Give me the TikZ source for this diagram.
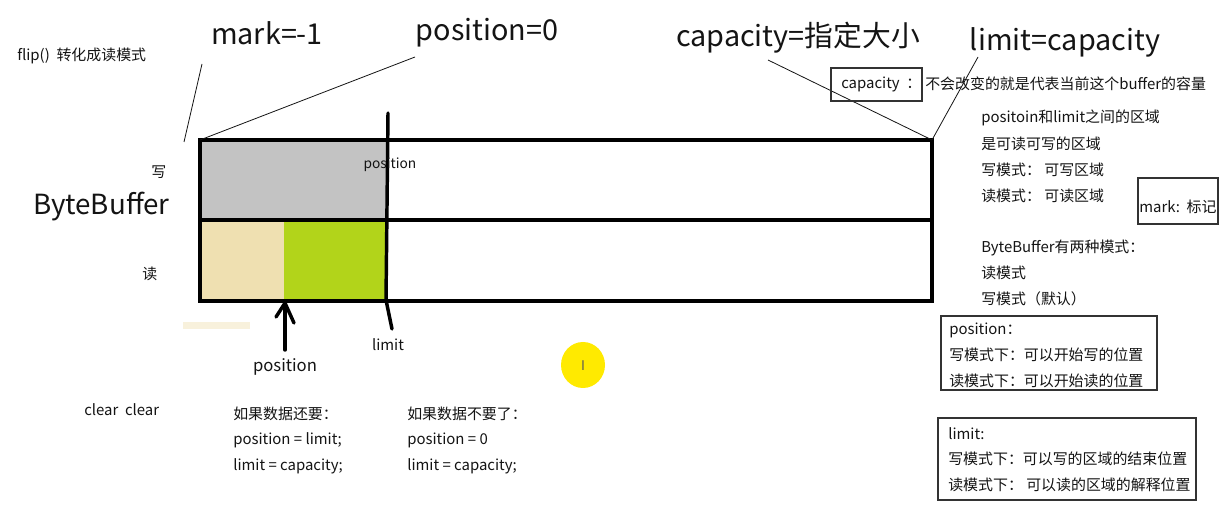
\documentclass[tikz,border=0pt]{standalone}
\usepackage{fontspec}
\setmainfont{Noto Sans CJK SC}
\definecolor{cgray}{HTML}{C3C3C3}
\definecolor{ctan}{HTML}{EFE0B1}
\definecolor{cgreen}{HTML}{B2D41A}
\definecolor{cyel}{HTML}{FFEA00}
\definecolor{ctxt}{HTML}{141414}
\begin{document}
\begin{tikzpicture}[x=0.75pt,y=-0.75pt,
  sm/.style={font=\fontsize{11.2}{12}\selectfont, inner sep=0pt, anchor=west, text=ctxt},
  md/.style={font=\fontsize{12.5}{14}\selectfont, inner sep=0pt, text=ctxt},
  big/.style={font=\fontsize{21.6}{24}\selectfont, inner sep=0pt, text=ctxt},
  thinln/.style={line width=0.6pt, draw=ctxt},
  boxln/.style={line width=0.9pt, draw=black!80},
  thick3/.style={line width=3.6pt, draw=black},
  bar/.style={line width=2.6pt, draw=black, line cap=round}]
\useasboundingbox (0,0) rectangle (1223,505);
\fill[white] (0,0) rectangle (1223,505);

% fills
\fill[cgray] (200,140) rectangle (387,220);
\fill[ctan] (200,220) rectangle (284,301);
\fill[cgreen] (284,220) rectangle (387,301);
\fill[ctan!45] (183,322) rectangle (250,329);

% buffer rectangle
\coordinate (tl) at (200,140);
\coordinate (tr) at (932,140);
\draw[thick3] (200,140) rectangle (932,301);
\draw[line width=3.2pt] (200,220) -- (932,220);

% vertical position/limit line
\coordinate (vtop) at (388,113);
\coordinate (vmid) at (386,300);
\coordinate (vbot) at (392,329);
\draw[bar] (vtop) -- (vmid) -- (vbot);

% arrow under green block
\coordinate (atip) at (285,303);
\coordinate (abot) at (285,350);
\draw[bar] (abot) -- (atip);
\draw[bar, line join=round] (276,317) -- (atip) -- (294,323);

% left labels
\node[sm] (flip) at (17,56) {flip()\ \ 转化成读模式};
\node[sm] (xie) at (151,172) {写};
\node[sm] (du) at (142,274) {读};
\node[big, anchor=west, font=\fontsize{20.8}{24}\selectfont] (bb) at (33,207) {ByteBuffer};

% top labels
\node[big] (mark) at (267,33) {mark=-1};
\node[big] (pos0) at (487,33) {position=0};
\node[big] (cap) at (798,38) {capacity=指定大小};
\node[big] (lim) at (1065,42) {limit=capacity};

% pointer lines
\coordinate (markend) at (202,64);
\coordinate (markto) at (184,142);
\coordinate (posend) at (415,57);
\coordinate (capend) at (768,60);
\coordinate (limend) at (978,57);
\draw[thinln] (markend) -- (markto);
\draw[thinln] (posend) -- (tl);
\draw[thinln] (capend) -- (tr);
\draw[thinln] (limend) -- (tr);

% inner labels
\node[sm, anchor=center, font=\fontsize{10.3}{12}\selectfont] (posin) at (390,165) {position};
\node[md] (posbelow) at (285,367) {position};
\node[sm, anchor=center] (limbelow) at (388,345) {limit};

% capacity box
\draw[boxln] (831,68) rectangle (922,101);
\node[sm] (capbox) at (841,84) {capacity\ \ ：};
\node[sm] (capdesc) at (925,84) {不会改变的就是代表当前这个buffer的容量};

% right text block
\node[sm] (r1) at (981,118) {positoin和limit之间的区域};
\node[sm] (r2) at (981,144) {是可读可写的区域};
\node[sm] (r3) at (981,170) {写模式： 可写区域};
\node[sm] (r4) at (981,196) {读模式： 可读区域};
\node[sm] (r5) at (981,248) {ByteBuffer有两种模式：};
\node[sm] (r6) at (981,273) {读模式};
\node[sm] (r7) at (981,299) {写模式（默认）};

% mark box
\draw[boxln] (1138,178) rectangle (1218,224);
\node[sm] (markbox) at (1139,207) {mark:\ \ 标记};

% position box
\draw[boxln] (941,316) rectangle (1157,390);
\node[sm] (p1) at (949,330) {position：};
\node[sm] (p2) at (949,355) {写模式下：可以开始写的位置};
\node[sm] (p3) at (949,381) {读模式下：可以开始读的位置};

% limit box
\draw[boxln] (938,418) rectangle (1196,500);
\node[sm] (l1) at (948,434) {limit:};
\node[sm] (l2) at (948,459) {写模式下：可以写的区域的结束位置};
\node[sm] (l3) at (948,485) {读模式下： 可以读的区域的解释位置};

% bottom text
\node[sm] (clr) at (84,410) {clear\ \ clear};
\node[sm] (k1) at (233,414) {如果数据还要：};
\node[sm] (k2) at (233,440) {position = limit;};
\node[sm] (k3) at (233,466) {limit = capacity;};
\node[sm] (n1) at (407,414) {如果数据不要了：};
\node[sm] (n2) at (407,440) {position = 0};
\node[sm] (n3) at (407,466) {limit = capacity;};

% cursor highlight
\fill[cyel] (583,365) ellipse [x radius=22, y radius=23];
\node[inner sep=0pt, text=black!65, font=\fontsize{10}{10}\selectfont] (cursor) at (583,366) {I};
\end{tikzpicture}
\end{document}
